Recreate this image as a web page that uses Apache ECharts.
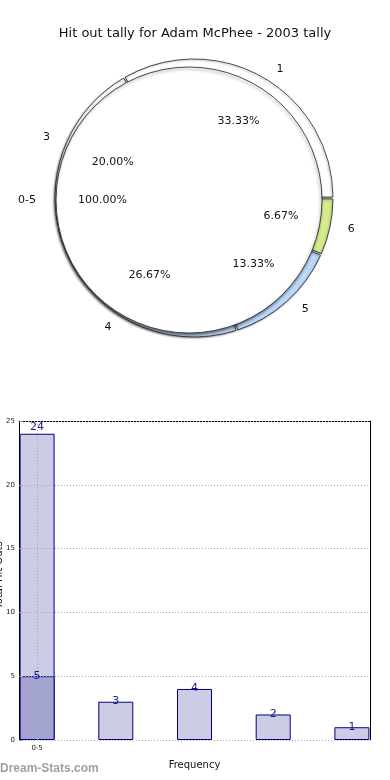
<!DOCTYPE html>
<html>
<head>
<meta charset="utf-8">
<script src="https://cdn.jsdelivr.net/npm/echarts@6/dist/echarts.min.js"></script>
<style>html,body{margin:0;padding:0;background:#fff}#c{width:390px;height:780px}</style>
</head>
<body>
<div id="c"></div>
<script>
const chartTitle = 'Hit out tally for Adam McPhee - 2003 tally';
const ringNames = ['1', '6', '5', '4', '3'];
const ringValues = [5, 1, 2, 4, 3];
const ringColors = ['#ffffff', '#d4ec8c', '#bcd8fc', '#c4d8f8', '#ffffff'];
const innerNames = ['0-5'];
const innerValues = [15];
const barX = [0, 1, 2, 3, 4];
const barTotals = [24, 3, 4, 2, 1];
const barLowX = [0];
const barLow = [5];
const xTickValues = [0];
const xTickLabels = ['0-5'];
const xAxisName = 'Frequency';
const yAxisName = 'Total Hit Outs';
const watermark = 'Dream-Stats.com';

const F = 'DejaVu Sans';
const chart = echarts.init(document.getElementById('c'));

const ringData = ringNames.map((n, i) => ({ name: n, value: ringValues[i], itemStyle: { color: ringColors[i] } }));
const innerData = innerNames.map((n, i) => ({ name: n, value: innerValues[i] }));
const totalData = barX.map((x, i) => {
  const d = { value: [x, barTotals[i]] };
  if (i === 0) d.label = { distance: 1 };
  return d;
});
const lowData = barLowX.map((x, i) => [x, barLow[i]]);

chart.setOption({
  animation: false,
  title: { text: chartTitle, left: 'center', top: 22, textStyle: { fontFamily: F, fontSize: 13, fontWeight: 'normal', color: '#111' } },
  graphic: [
    { type: 'text', left: 0, top: 763, style: { text: watermark, font: 'bold 12px "Liberation Sans"', fill: '#a0a0a0' } },
    { type: 'text', x: -1, y: 575, rotation: Math.PI / 2, style: { text: yAxisName, font: '10px "DejaVu Sans"', fill: '#111', align: 'center', verticalAlign: 'middle' } }
  ],
  grid: { left: 19, right: 20, top: 421, bottom: 40, containLabel: false, outerBoundsMode: 'none' },
  xAxis: [{
    type: 'value', min: -0.23, max: 4.23,
    name: xAxisName, nameLocation: 'middle', nameGap: 20,
    nameTextStyle: { fontFamily: F, fontSize: 10, color: '#111' },
    axisLine: { show: false, onZero: false }, splitLine: { show: false },
    axisTick: { show: false },
    axisLabel: { customValues: xTickValues, formatter: v => xTickLabels[xTickValues.indexOf(v)] || '', fontFamily: F, fontSize: 7, color: '#222', margin: 5 }
  }, {
    type: 'value', position: 'top', min: -0.23, max: 4.23,
    axisLine: { show: true, onZero: false, lineStyle: { color: '#000', width: 1 } },
    axisTick: { show: false }, axisLabel: { show: false }, splitLine: { show: false }
  }],
  yAxis: [{
    type: 'value', min: 0, max: 25, interval: 5, z: 3,
    axisLine: { show: true, onZero: false, lineStyle: { color: '#000', width: 1 } },
    axisTick: { show: true, inside: true, length: 3, lineStyle: { color: '#999' } },
    axisLabel: { fontFamily: F, fontSize: 7, color: '#222', margin: 4 },
    splitLine: { show: true, lineStyle: { color: '#aaa', type: [1, 2], width: 1 } }
  }, {
    type: 'value', position: 'right', min: 0, max: 25,
    axisLine: { show: true, onZero: false, lineStyle: { color: '#000', width: 1 } },
    axisTick: { show: false }, axisLabel: { show: false }, splitLine: { show: false }
  }],
  series: [
    {
      type: 'pie', z: 1, silent: true, center: [194, 198], radius: [0, 139], startAngle: 120, clockwise: true,
      padAngle: 0.8, data: ringData,
      itemStyle: { borderColor: '#222', borderWidth: 0.8, shadowColor: 'rgba(0,0,0,0.35)', shadowBlur: 2, shadowOffsetX: -1, shadowOffsetY: 1 },
      label: { show: true, position: 'outside', formatter: '{b}', fontFamily: F, fontSize: 11, color: '#111', distanceToLabelLine: 5 },
      labelLine: { show: false, length: 10, length2: 3 }
    },
    {
      type: 'pie', z: 2, silent: true, center: [189, 200], radius: [0, 133], startAngle: 0,
      data: innerData,
      itemStyle: { color: '#fff', borderColor: '#222', borderWidth: 0.8, shadowColor: 'rgba(0,0,0,0.5)', shadowBlur: 3, shadowOffsetX: -1, shadowOffsetY: 2 },
      label: { show: true, position: 'outside', formatter: '{b}', fontFamily: F, fontSize: 11, color: '#111', distanceToLabelLine: 5 },
      labelLine: { show: false, length: 12, length2: 3 }
    },
    {
      type: 'pie', z: 3, silent: true, center: [194, 198], radius: [64, 108], startAngle: 120,
      data: ringNames.map((n, i) => ({ name: n, value: ringValues[i] })),
      itemStyle: { color: 'rgba(0,0,0,0)', borderWidth: 0 },
      label: { show: true, position: 'inside', formatter: p => p.percent.toFixed(2) + '%', fontFamily: F, fontSize: 11, color: '#111' },
      labelLine: { show: false }
    },
    {
      type: 'pie', z: 3, silent: true, center: [189, 200], radius: [0, 50], startAngle: 0,
      data: innerNames.map((n, i) => ({ name: n, value: innerValues[i] })),
      itemStyle: { color: 'rgba(0,0,0,0)', borderWidth: 0 },
      label: { show: true, position: 'outside', formatter: p => p.percent.toFixed(2) + '%', fontFamily: F, fontSize: 11, color: '#111', distanceToLabelLine: 5 },
      labelLine: { show: false, length: 5, length2: 2 }
    },
    {
      type: 'bar', xAxisIndex: 0, yAxisIndex: 0, barWidth: 35, barGap: '-100%', z: 2,
      data: totalData,
      itemStyle: { color: '#cccce6', borderColor: '#000080', borderWidth: 1 },
      label: { show: true, position: 'top', distance: -5, formatter: p => p.value[1], fontFamily: F, fontSize: 11, color: '#1a1a8c' },
      markLine: { silent: true, symbol: 'none', label: { show: false }, lineStyle: { color: '#aaa', type: [1, 2], width: 1 }, data: [{ xAxis: 0 }] }
    },
    {
      type: 'bar', xAxisIndex: 0, yAxisIndex: 0, barWidth: 35, barGap: '-100%', z: 2,
      data: lowData,
      itemStyle: { color: '#a3a3cf', borderColor: '#000080', borderWidth: 1 },
      label: { show: true, position: 'top', distance: -5, formatter: p => p.value[1], fontFamily: F, fontSize: 11, color: '#1a1a8c' }
    }
  ]
});
</script>
</body>
</html>
